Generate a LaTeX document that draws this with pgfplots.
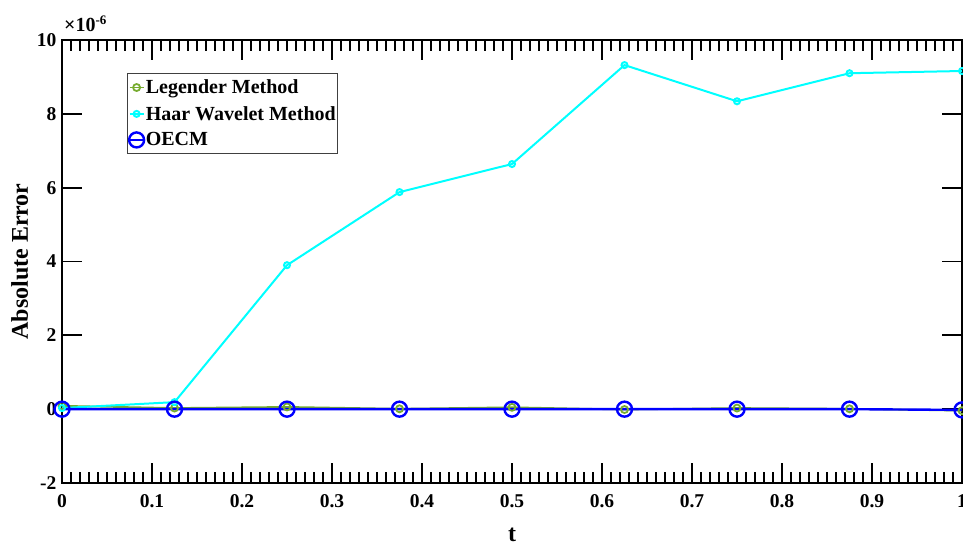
\documentclass[border=0pt]{standalone}
\usepackage{pgfplots}
\pgfplotsset{compat=1.18}
\usepackage{fontspec}
\setmainfont{Liberation Serif}
\definecolor{lgreen}{rgb}{0.466,0.674,0.188}
\definecolor{mcyan}{rgb}{0,1,1}
\begin{document}
\begin{tikzpicture}
\useasboundingbox (-62pt,-63pt) rectangle (901pt,483pt);
\begin{axis}[
  name=ax,
  at={(0,0)}, anchor=south west, scale only axis,
  width=900pt, height=443pt,
  xmin=0, xmax=1, ymin=-2, ymax=10,
  xtick={0,0.1,0.2,0.3,0.4,0.5,0.6,0.7,0.8,0.9,1},
  ytick={-2,0,2,4,6,8,10},
  minor x tick num=9,
  minor y tick num=0,
  tick align=inside,
  major tick length=20pt, minor tick length=11pt,
  axis line style={line width=2.8pt},
  every tick/.style={black, line width=1.8pt},
  /pgf/number format/assume math mode=true,
  tick label style={font=\fontsize{19.5}{19.5}\selectfont\bfseries},
  xticklabel style={yshift=-8pt},
  yticklabel style={xshift=-2pt},
  xlabel={t},
  ylabel={Absolute Error},
  label style={font=\fontsize{24}{24}\selectfont\bfseries},
  xlabel style={at={(axis description cs:0.5,-0.131)}, anchor=base},
  ylabel style={at={(axis description cs:-0.047,0.5)}, anchor=center},
  clip=false,
  legend cell align=left,
  legend style={at={(0.072,0.925)}, anchor=north west, draw=black!75,
    line width=1.2pt, font=\fontsize{20}{20}\selectfont\bfseries,
    inner xsep=1pt, inner ysep=5pt, row sep=9pt,
    nodes={inner xsep=1pt, inner ysep=1pt}},
  legend image code/.code={\draw[mark repeat=2,mark phase=2] plot coordinates {(0pt,0pt) (7pt,0pt) (14pt,0pt)};},
]
\addplot[color=lgreen, line width=1.8pt, mark=o, mark size=3.5pt] coordinates {
(0,0.09) (0.125,0.03) (0.25,0.06) (0.375,0.01) (0.5,0.05) (0.625,-0.01) (0.75,0.03) (0.875,0.01) (1,-0.04)};
\addlegendentry{Legender Method}
\addplot[color=mcyan, line width=2pt, mark=o, mark size=3pt] coordinates {
(0,0.03) (0.125,0.19) (0.25,3.9) (0.375,5.88) (0.5,6.64) (0.625,9.32) (0.75,8.34) (0.875,9.1) (1,9.16)};
\addlegendentry{Haar Wavelet Method}
\addplot[color=blue, line width=2.4pt, mark=o, mark size=7.5pt] coordinates {
(0,0) (0.125,0) (0.25,0) (0.375,0) (0.5,0) (0.625,0) (0.75,0) (0.875,0) (1,-0.02)};
\addlegendentry{OECM}
\end{axis}
\node[anchor=base west, inner sep=0pt]
  at ([xshift=2pt,yshift=8pt]ax.north west) {\fontsize{20}{20}\selectfont\bfseries ×10\raisebox{7pt}{\fontsize{13}{13}\selectfont\bfseries -6}};
\end{tikzpicture}
\end{document}
